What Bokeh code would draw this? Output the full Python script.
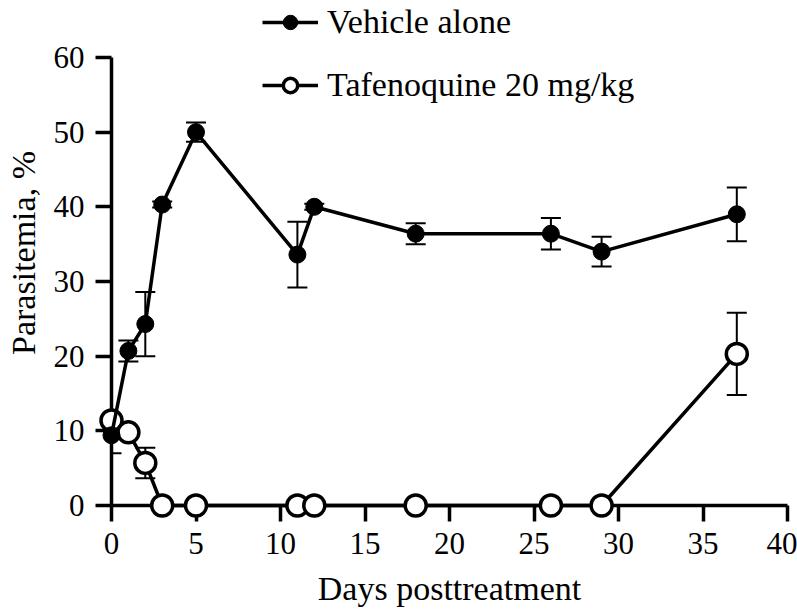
from bokeh.plotting import figure
from bokeh.models import (FixedTicker, Whisker, TeeHead, ColumnDataSource,
                          Legend, LegendItem, Range1d)
from bokeh.embed import file_html
from bokeh.resources import INLINE

# ---- data ----
days = [0, 1, 2, 3, 5, 11, 12, 18, 26, 29, 37]
vehicle_mean = [9.4, 20.7, 24.3, 40.3, 50.0, 33.6, 40.0, 36.4, 36.4, 34.0, 39.0]
vehicle_sem = [2.4, 1.4, 4.3, 0.4, 1.3, 4.4, 0.4, 1.4, 2.1, 2.0, 3.6]
taf_mean = [11.4, 9.8, 5.7, 0, 0, 0, 0, 0, 0, 0, 20.3]
taf_sem = [0.8, 0.5, 2.05, 0, 0, 0, 0, 0, 0, 0, 5.5]
x_ticks = [0, 5, 10, 15, 20, 25, 30, 35, 40]
y_ticks = [0, 10, 20, 30, 40, 50, 60]
series_labels = ["Vehicle alone", "Tafenoquine 20 mg/kg"]
x_label = "Days posttreatment"
y_label = "Parasitemia, %"

FONT = "Liberation Serif"

veh = ColumnDataSource(dict(x=days, y=vehicle_mean,
                            lo=[m - s for m, s in zip(vehicle_mean, vehicle_sem)],
                            hi=[m + s for m, s in zip(vehicle_mean, vehicle_sem)]))
taf = ColumnDataSource(dict(x=days, y=taf_mean,
                            lo=[m - s for m, s in zip(taf_mean, taf_sem)],
                            hi=[m + s for m, s in zip(taf_mean, taf_sem)]))

# y range extends above 60 to leave room for the legend; axis line bounded to 0..60
p = figure(width=797, height=609, output_backend="svg", toolbar_location=None,
           x_range=Range1d(0, 40), y_range=Range1d(0, 67.63),
           min_border_left=111, min_border_right=10, min_border_top=0,
           min_border_bottom=104)
p.outline_line_color = None
p.grid.visible = False
p.background_fill_color = "white"

for ax in (p.xaxis[0], p.yaxis[0]):
    ax.axis_line_width = 3.5
    ax.axis_line_color = "black"
    ax.major_tick_line_width = 3.5
    ax.major_tick_line_color = "black"
    ax.major_tick_out = 16
    ax.major_tick_in = 0
    ax.minor_tick_line_color = None
    ax.major_label_text_font = FONT
    ax.major_label_text_font_size = "31px"
    ax.major_label_text_color = "black"
    ax.axis_label_text_font = FONT
    ax.axis_label_text_font_size = "34px"
    ax.axis_label_text_font_style = "normal"
    ax.axis_label_text_color = "black"

p.xaxis.ticker = FixedTicker(ticks=x_ticks)
p.yaxis.ticker = FixedTicker(ticks=y_ticks)
p.yaxis.bounds = (0, 60)
p.xaxis.axis_label = x_label
p.yaxis.axis_label = y_label
p.xaxis.major_label_standoff = 11
p.yaxis.major_label_standoff = 11
p.xaxis.axis_label_standoff = 13
p.yaxis.axis_label_standoff = 9

# error bars
for src in (taf, veh):
    w = Whisker(source=src, base="x", upper="hi", lower="lo", dimension="height",
                line_width=2, line_color="black",
                upper_head=TeeHead(size=20, line_width=2, line_color="black"),
                lower_head=TeeHead(size=20, line_width=2, line_color="black"))
    p.add_layout(w)

# Tafenoquine (open circles)
tl = p.line("x", "y", source=taf, line_width=3.5, color="black")
tm = p.scatter("x", "y", source=taf, marker="circle", size=21,
               fill_color="white", line_color="black", line_width=3.5)
# Vehicle (filled)
vl = p.line("x", "y", source=veh, line_width=3.5, color="black")
vm = p.scatter("x", "y", source=veh, marker="circle", size=17,
               fill_color="black", line_color="black", line_width=1)
for r in (tl, tm, vl, vm):
    r.level = "overlay"

legend = Legend(items=[LegendItem(label=series_labels[0], renderers=[vl, vm]),
                       LegendItem(label=series_labels[1], renderers=[tl, tm])],
                location=(151, 401), orientation="vertical",
                glyph_width=56, glyph_height=36, label_height=36, spacing=25,
                label_standoff=9, padding=0, margin=0,
                border_line_color=None, background_fill_alpha=0,
                label_text_font=FONT, label_text_font_size="34px",
                label_text_color="black")
p.add_layout(legend, "center")

open("out.html", "w").write(file_html(p, INLINE))
